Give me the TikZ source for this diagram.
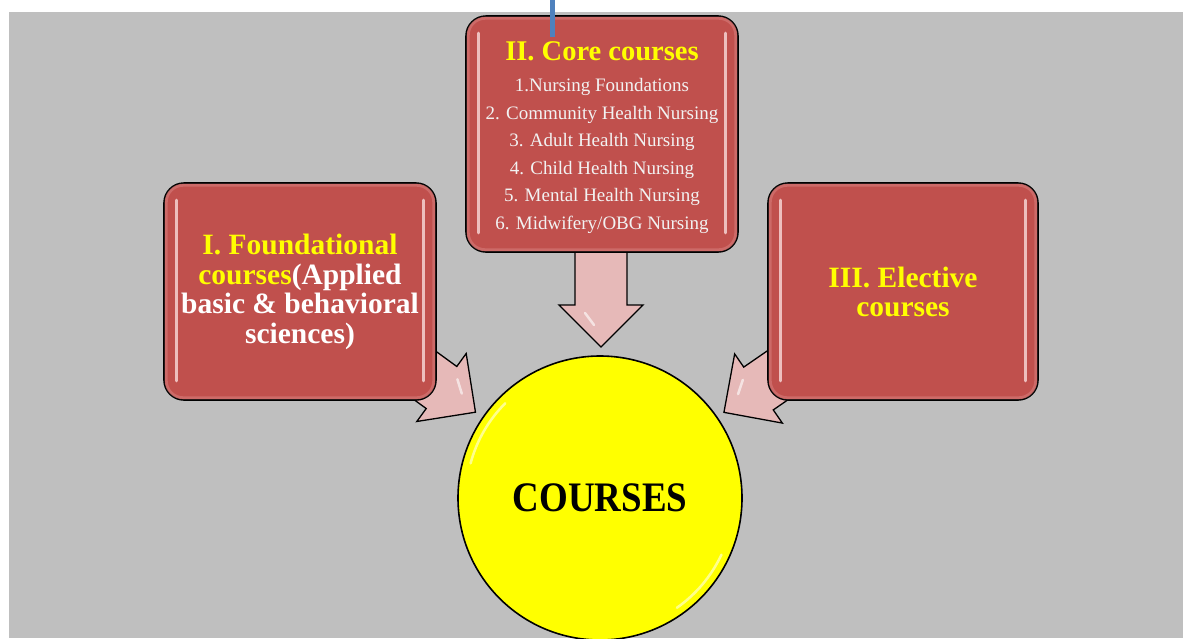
\documentclass[tikz,border=0pt]{standalone}
\usepackage{fontspec}
\setmainfont{Liberation Serif}
\usetikzlibrary{calc}
\definecolor{bggray}{HTML}{BFBFBF}
\definecolor{boxred}{HTML}{C0504D}
\definecolor{boxrim}{HTML}{D9817F}
\definecolor{hilite}{HTML}{F6D3D2}
\definecolor{arrowpink}{HTML}{E6B9B8}
\definecolor{lineblue}{HTML}{4F81BD}
\definecolor{listwhite}{HTML}{F2F2F2}
\definecolor{txtyellow}{HTML}{FFFF00}
% #1 base point, #2 rotation, #3 shaft length behind base, #4 side of the shine (1 or -1)
\newcommand{\blockarrow}[4]{%
  \begin{scope}[shift={(#1)}, rotate=#2]
    \draw[arrowbody] (-#3,-26) -- (0,-26) -- (0,-42) -- (42,0) -- (0,42) -- (0,26) -- (-#3,26) -- cycle;
    \draw[arrowshine] (8,{#4*16}) -- (20,{#4*7});
  \end{scope}}
\newcommand{\boxgloss}[1]{%
  \draw[rim] ([xshift=3pt,yshift=-3pt]#1.north west) rectangle ([xshift=-3pt,yshift=3pt]#1.south east);
  \draw[shine] ([xshift=13pt,yshift=-18pt]#1.north west) -- ([xshift=13pt,yshift=20pt]#1.south west);
  \draw[shine] ([xshift=-13pt,yshift=-18pt]#1.north east) -- ([xshift=-13pt,yshift=20pt]#1.south east);}
\begin{document}
\begin{tikzpicture}[x=1pt,y=-1pt,
  cbox/.style={draw=black, line width=1.6pt, fill=boxred, rounded corners=20pt, inner sep=0pt},
  rim/.style={draw=boxrim, line width=3pt, rounded corners=17pt, opacity=0.55},
  shine/.style={draw=hilite, line width=3pt, line cap=round, opacity=0.85},
  arrowbody/.style={draw=black, line width=1.3pt, fill=arrowpink, line join=miter},
  arrowshine/.style={draw=white, line width=2.5pt, line cap=round, opacity=0.6},
  titletext/.style={font=\fontsize{28.5}{30}\selectfont\bfseries, text=txtyellow, inner sep=0pt},
  listtext/.style={font=\fontsize{19}{27.6}\selectfont, text=listwhite, align=center, inner sep=0pt},
  sidetext/.style={font=\fontsize{29.5}{29.7}\selectfont\bfseries, align=center, inner sep=0pt},
  hub/.style={circle, draw=black, line width=1.6pt, fill=txtyellow, minimum size=284pt, inner sep=0pt,
    font=\fontsize{42}{42}\selectfont\bfseries, text=black},
  glint/.style={draw=white, line width=2.5pt, opacity=0.55, line cap=round},
  blueline/.style={draw=lineblue, line width=5pt}]
\useasboundingbox (0,0) rectangle (1183,638);
\fill[white] (0,0) rectangle (1183,638);
\fill[bggray] (9,12) rectangle (1183,638);
% block arrows (behind boxes)
\blockarrow{601,305}{-90}{80}{1}
\blockarrow{441.5,387.5}{-36}{80}{-1}
\blockarrow{758.5,388.5}{-145.4}{80}{1}
% boxes
\node[cbox, minimum width=272pt, minimum height=236pt] (core) at (602,134) {};
\node[cbox, minimum width=272pt, minimum height=217pt] (found) at (300,291.5) {};
\node[cbox, minimum width=270pt, minimum height=217pt] (elect) at (903,291.5) {};
\boxgloss{core}
\boxgloss{found}
\boxgloss{elect}
% hub circle
\node[hub] (courses) at (600,498) {\scalebox{0.88}[1]{COURSES}};
\draw[glint] ($(courses.center)+(-135:134)$) arc[start angle=-135, end angle=-165, radius=134];
\draw[glint] ($(courses.center)+(25:134)$) arc[start angle=25, end angle=55, radius=134];
% texts
\node[titletext, anchor=base] (coretitle) at (602,60) {II. Core courses};
\node[listtext] (corelist) at (602,156) {1.Nursing Foundations\\2. Community Health Nursing\\3. Adult Health Nursing\\4. Child Health Nursing\\5. Mental Health Nursing\\6. Midwifery/OBG Nursing};
\node[sidetext] (foundtext) at (300,292) {\textcolor{txtyellow}{I. Foundational}\\\textcolor{txtyellow}{courses}\textcolor{white}{(Applied}\\\textcolor{white}{basic \& behavioral}\\\textcolor{white}{sciences)}};
\node[sidetext, text=txtyellow] (electtext) at (903,292) {III. Elective\\courses};
% blue line
\coordinate (bluetop) at (552,0);
\coordinate (bluebot) at (552,37);
\draw[blueline] (bluetop) -- (bluebot);
\end{tikzpicture}
\end{document}
